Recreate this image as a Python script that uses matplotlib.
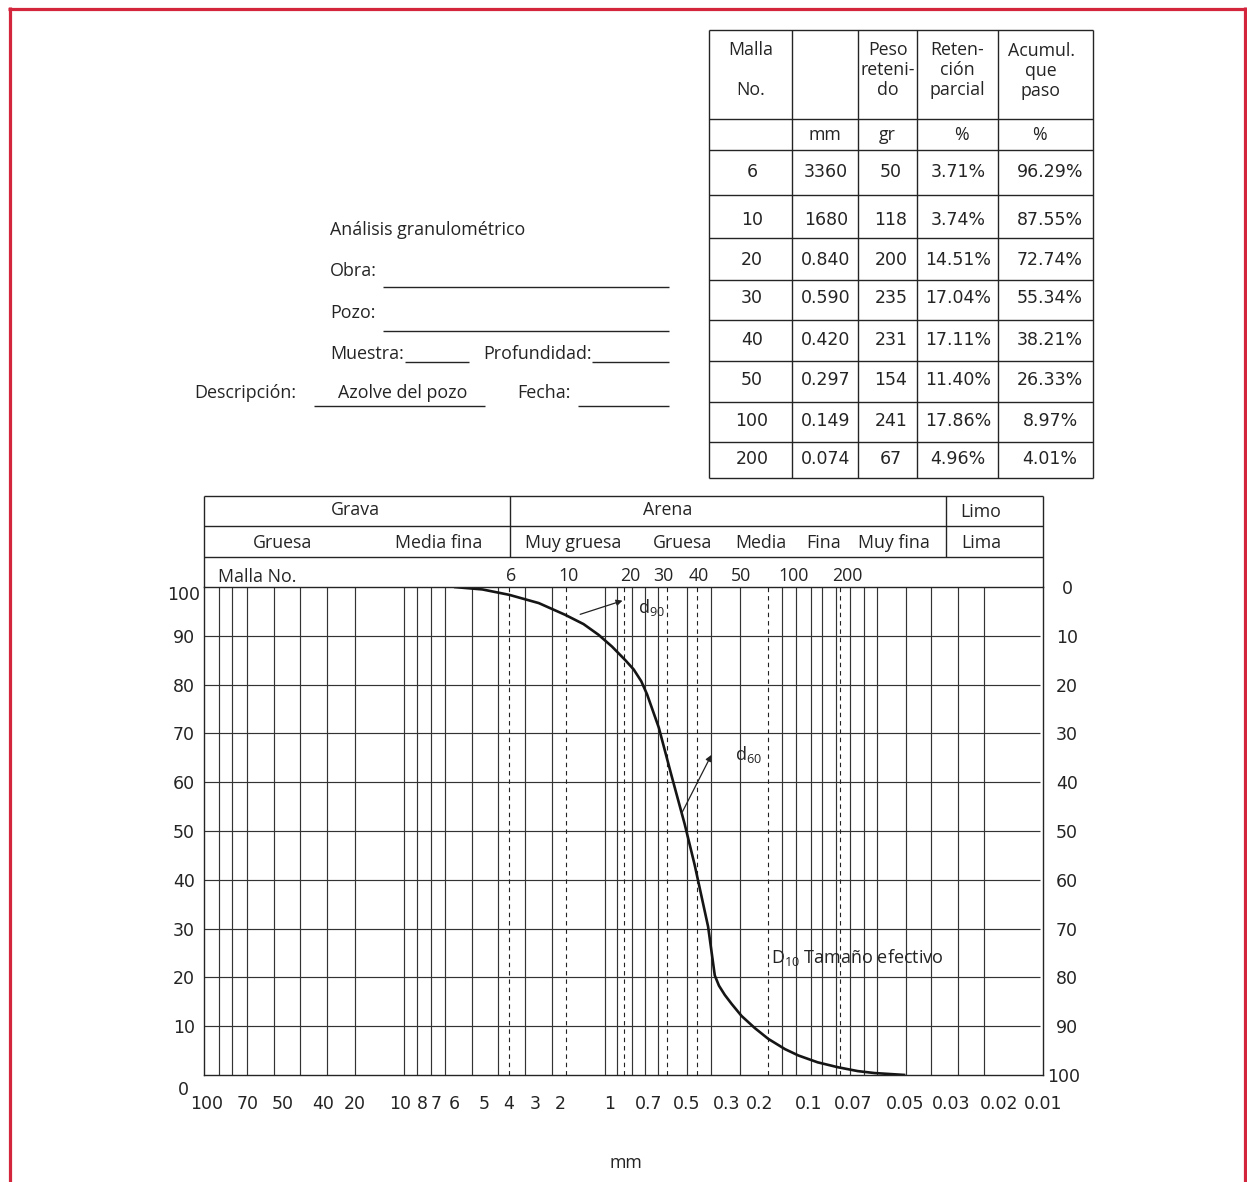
import matplotlib
matplotlib.use("Agg")
import matplotlib.pyplot as plt
from matplotlib.lines import Line2D

plt.rcParams['font.family'] = ['Open Sans', 'DejaVu Sans']
plt.rcParams['mathtext.default'] = 'regular'

W, H, DPI = 1247, 1182, 100
INK = '#242424'
GRID = '#333333'
NUM = ['DejaVu Sans']
FRAME_RED = '#d3263c'

# ---- sieve analysis table ----
malla = ['6', '10', '20', '30', '40', '50', '100', '200']
abertura_mm = ['3360', '1680', '0.840', '0.590', '0.420', '0.297', '0.149', '0.074']
peso_gr = [50, 118, 200, 235, 231, 154, 241, 67]
retencion_pct = [3.71, 3.74, 14.51, 17.04, 17.11, 11.40, 17.86, 4.96]
acumulado_pct = [96.29, 87.55, 72.74, 55.34, 38.21, 26.33, 8.97, 4.01]

# ---- printed grain-size scale (position across the chart, 0-100) ----
mm_labels = ['100', '70', '50', '40', '20', '10', '8', '7', '6', '5', '4', '3', '2',
             '1', '0.7', '0.5', '0.3', '0.2', '0.1', '0.07', '0.05', '0.03', '0.02', '0.01']
mm_pos = [0.32, 5.18, 9.36, 14.30, 18.09, 23.48, 26.07, 27.77, 29.92, 33.49, 36.44,
          39.65, 42.59, 48.51, 53.16, 57.72, 62.49, 66.47, 72.32, 77.59, 83.85,
          89.39, 95.17, 100.36]
grid_pos = [1.82, 3.37, 5.13, 8.34, 11.53, 14.74, 18.03, 23.96, 25.42, 27.21, 28.88,
            32.06, 35.20, 38.34, 41.63, 48.00, 49.46, 51.25, 52.77, 54.35, 57.72,
            60.70, 64.09, 69.17, 70.76, 72.55, 73.93, 75.60, 77.27, 78.90, 80.49,
            83.94, 87.01, 90.19, 93.36]
sieve_line_pos = [36.44, 43.30, 50.18, 55.42, 58.92, 67.50, 76.13]
sieve_labels = ['6', '10', '20', '30', '40', '50', '100', '200']
sieve_label_pos = [36.71, 43.62, 51.01, 54.95, 59.24, 64.24, 70.56, 77.00]
pct_ticks = [0, 10, 20, 30, 40, 50, 60, 70, 80, 90, 100]

# ---- granulometric curve: chart position vs % passing ----
curva_pos = [29.9, 33.3, 36.5, 40.05, 43.2, 45.4, 47.2, 48.8, 50.4, 51.4, 52.3, 53.0,
             53.7, 54.4, 55.9, 57.5, 58.7, 60.3, 61.1, 61.6, 62.3, 63.1, 64.3, 65.9,
             67.5, 69.5, 71.1, 73.4, 75.8, 78.2, 80.2, 83.9]
curva_paso = [100.0, 99.5, 98.4, 96.7, 94.3, 92.4, 90.2, 87.8, 85.0, 83.1, 80.7, 78.0,
              74.6, 71.2, 61.5, 51.4, 43.0, 30.4, 20.4, 18.3, 16.4, 14.6, 12.1, 9.6,
              7.4, 5.3, 4.0, 2.6, 1.6, 0.8, 0.4, 0.0]

fig = plt.figure(figsize=(W / DPI, H / DPI), dpi=DPI)
fig.patch.set_facecolor('white')

# page layer in pixel units (origin top-left)
lay = fig.add_axes([0, 0, 1, 1], zorder=0)
lay.set_xlim(0, W)
lay.set_ylim(H, 0)
lay.axis('off')


def hline(x0, x1, y, lw=1.0, color=INK):
    lay.add_line(Line2D([x0, x1], [y, y], lw=lw, color=color, solid_capstyle='butt'))


def vline(x, y0, y1, lw=1.0, color=INK):
    lay.add_line(Line2D([x, x], [y0, y1], lw=lw, color=color, solid_capstyle='butt'))


# red page frame
for x in (9.5, 1244.5):
    vline(x, 7, H, lw=2.3, color=FRAME_RED)
hline(8, 1246, 8.5, lw=2.3, color=FRAME_RED)

# ---- header form ----
FS_FORM = 12.9
lay.text(330, 230, 'Análisis granulométrico', fontsize=FS_FORM, color=INK, va='center')
lay.text(330, 271, 'Obra:', fontsize=FS_FORM, color=INK, va='center')
hline(383, 669, 287)
lay.text(330, 313, 'Pozo:', fontsize=FS_FORM, color=INK, va='center')
hline(383, 669, 331)
lay.text(330, 354, 'Muestra:', fontsize=FS_FORM, color=INK, va='center')
hline(405, 469, 362)
lay.text(483, 354, 'Profundidad:', fontsize=FS_FORM, color=INK, va='center')
hline(592, 669, 362)
lay.text(194, 393, 'Descripción:', fontsize=FS_FORM, color=INK, va='center')
hline(314, 485, 406)
lay.text(403, 393, 'Azolve del pozo', fontsize=FS_FORM, color=INK, va='center', ha='center')
lay.text(517, 393, 'Fecha:', fontsize=FS_FORM, color=INK, va='center')
hline(578, 669, 406)

# ---- sieve table ----
col_x = [709.3, 791.7, 858.3, 917.3, 998.3, 1093.3]
row_y = [30, 119, 150, 195, 237.7, 280, 320, 361, 401.7, 441.7, 478.3]
for y in row_y:
    hline(col_x[0], col_x[-1], y, lw=1.0)
for x in col_x:
    vline(x, row_y[0], row_y[-1], lw=1.0)

FS_TAB = 12.8
head_kw = dict(fontsize=FS_TAB, color=INK, ha='center', va='center', linespacing=1.12)
lay.text(751, 50, 'Malla', **head_kw)
lay.text(751, 90, 'No.', **head_kw)
lay.text(888, 70, 'Peso\nreteni-\ndo', **head_kw)
lay.text(957, 70, 'Reten-\nción\nparcial', **head_kw)
lay.text(1041, 71, 'Acumul.\nque\npaso', **head_kw)
for x, unit in zip([825, 887, 961, 1039], ['mm', 'gr', '%', '%']):
    lay.text(x, 135, unit, **head_kw)

row_text_y = [172, 220, 260, 298, 340, 380, 421, 459]
num_kw = dict(fontsize=12.5, color=INK, ha='center', va='center', family=NUM)
for i, y in enumerate(row_text_y):
    lay.text(752, y, malla[i], **num_kw)
    lay.text(826, y, abertura_mm[i], **num_kw)
    lay.text(891, y, str(peso_gr[i]), **num_kw)
    lay.text(958, y, f'{retencion_pct[i]:.2f}%', **num_kw)
    lay.text(1050, y, f'{acumulado_pct[i]:.2f}%', **num_kw)

# ---- classification header above the chart ----
PL, PR = 204, 1043
for y in (496, 526, 557):
    hline(PL, PR, y)
vline(PL, 496, 587)
vline(PR, 496, 587)
vline(510, 496, 557)
vline(946, 496, 557)
FS_HEAD = 12.8
hk = dict(fontsize=FS_HEAD, color=INK, ha='center', va='center')
lay.text(355, 510, 'Grava', **hk)
lay.text(668, 510, 'Arena', **hk)
lay.text(981, 512, 'Limo', **hk)
for x, name in zip([283, 439, 573, 683, 761, 824, 894, 981],
                   ['Gruesa', 'Media fina', 'Muy gruesa', 'Gruesa', 'Media', 'Fina',
                    'Muy fina', 'Lima']):
    lay.text(x, 543, name, **hk)
lay.text(218, 577, 'Malla No.', fontsize=FS_HEAD, color=INK, ha='left', va='center')
lay.text(626, 1163, 'mm', fontsize=FS_HEAD, color=INK, ha='center', va='center')

# ---- grading chart ----
ax = fig.add_axes([PL / W, 1 - 1075 / H, (PR - PL) / W, 488 / H], zorder=2)
ax.patch.set_alpha(0)
ax.set_xlim(0, 100)
ax.set_ylim(0, 100)
for sp in ax.spines.values():
    sp.set_color(INK)
    sp.set_linewidth(1.0)

ax.vlines(grid_pos, 0, 100, color=GRID, lw=0.85)
ax.hlines(pct_ticks[1:-1], 0, 100, color=GRID, lw=0.85)
ax.vlines(sieve_line_pos, 0, 100, color='#222222', lw=0.8, linestyles=(0, (4, 3.5)))
ax.plot(curva_pos, curva_paso, color='#151515', lw=1.9, solid_joinstyle='round',
        solid_capstyle='butt')

# grain-size labels under the chart
ax.set_xticks(mm_pos, mm_labels, fontsize=12.5, color=INK, family=NUM)
ax.tick_params(axis='x', length=0, pad=14.5)
ax.set_yticks([])

# sieve numbers above the chart
for lbl, x in zip(sieve_labels, sieve_label_pos):
    ax.annotate(lbl, xy=(x, 100), xycoords=('data', 'data'), xytext=(0, 8),
                textcoords='offset points', ha='center', va='center',
                fontsize=FS_HEAD, color=INK)

# % passing (left) and % retained (right)
for v in pct_ticks:
    dy = 0
    if v == 100:
        dy = -4.5
    if v == 0:
        dy = -9.5
    ax.annotate(str(v), xy=(0, v), xycoords=('axes fraction', 'data'),
                xytext=(-14.5, dy), textcoords='offset points', ha='center',
                va='center_baseline', fontsize=12.5, color=INK, family=NUM)
    ax.annotate(str(100 - v), xy=(1, v), xycoords=('axes fraction', 'data'),
                xytext=(17.3 if v != 0 else 14.5, 0), textcoords='offset points',
                ha='center', va='center_baseline', fontsize=12.5, color=INK, family=NUM)

# characteristic diameters
arrow_kw = dict(arrowstyle='-|>', color='#222222', lw=0.9, mutation_scale=9,
                shrinkA=0, shrinkB=0)
ax.annotate('', xy=(50.06, 97.2), xytext=(45.0, 94.4), arrowprops=arrow_kw)
ax.annotate('', xy=(60.70, 65.6), xytext=(57.13, 53.6), arrowprops=arrow_kw)
ax.text(51.97, 95.7, r'$d_{90}$', fontsize=13, color=INK, va='center')
ax.text(63.53, 65.6, r'$d_{60}$', fontsize=13, color=INK, va='center')
ax.text(67.82, 24.0, r'$D_{10}$ Tamaño efectivo', fontsize=13, color=INK, va='center')

fig.savefig('out.png', dpi=DPI, facecolor='white')
